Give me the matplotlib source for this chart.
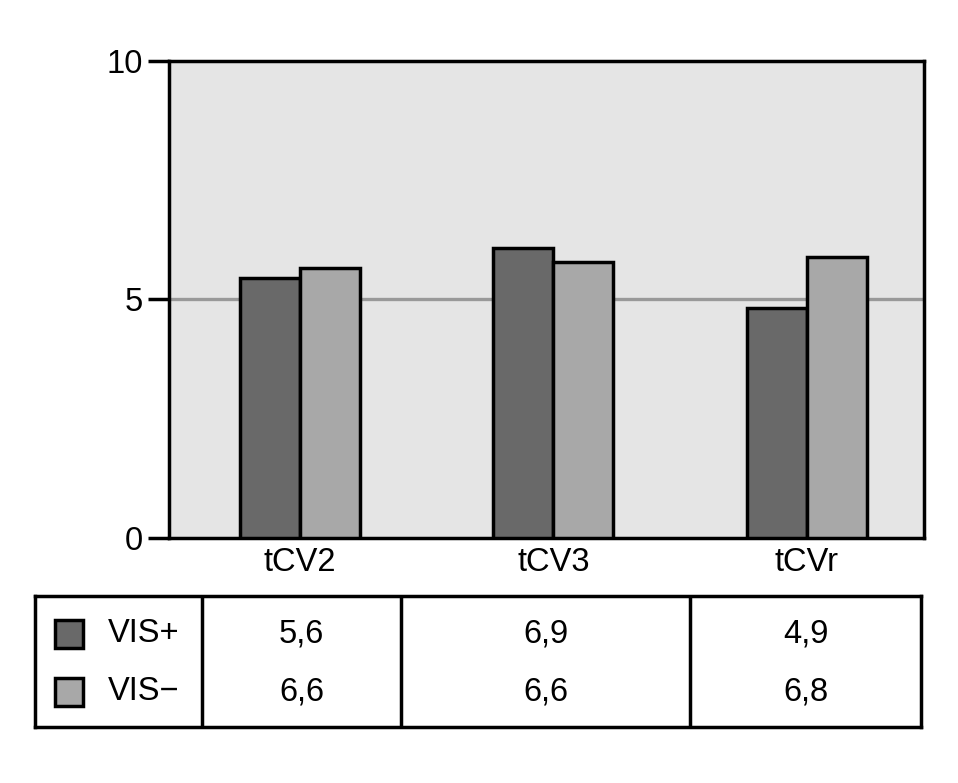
import matplotlib.pyplot as plt
import numpy as np

plt.rcParams['font.family'] = ['Liberation Sans', 'DejaVu Sans']

categories = ['tCV2', 'tCV3', 'tCVr']
series = ['VIS+', 'VIS\u2212']
vis_plus = [5.45, 6.08, 4.82]
vis_minus = [5.66, 5.78, 5.89]
table_plus = ['5,6', '6,9', '4,9']
table_minus = ['6,6', '6,6', '6,8']
yticks = [0, 5, 10]

dark = '#696969'
light = '#a8a8a8'
fs = 23.5
lw = 2.5

fig = plt.figure(figsize=(9.58, 7.83), dpi=100)
W, H = 958, 783

# main bar axes, placed in pixel terms
ax = fig.add_axes([169 / W, 1 - 537.5 / H, (924 - 169) / W, (537.5 - 61) / H])
ax.set_facecolor('#e5e5e5')

x = np.arange(len(categories))
bw = 0.237
ax.axhline(5, color='#999999', lw=2.4, zorder=1)
ax.bar(x - bw / 2, vis_plus, bw, color=dark, edgecolor='black', lw=lw, zorder=3)
ax.bar(x + bw / 2, vis_minus, bw, color=light, edgecolor='black', lw=lw, zorder=3)

ax.set_xlim(-0.516, 2.462)
ax.set_ylim(0, 10)
ax.set_yticks(yticks)
ax.set_xticks(x)
ax.set_xticklabels(categories)
ax.tick_params(axis='x', length=0, pad=7, labelsize=fs)
ax.tick_params(axis='y', length=15, width=lw, pad=4, labelsize=fs)
for s in ax.spines.values():
    s.set_linewidth(lw)

# table below
tx = fig.add_axes([35 / W, 1 - 727 / H, (921 - 35) / W, (727 - 596) / H])
tx.set_xlim(35, 921)
tx.set_ylim(727, 596)
tx.set_xticks([])
tx.set_yticks([])
for s in tx.spines.values():
    s.set_linewidth(lw)
for xd in [202, 401, 690]:
    tx.axvline(xd, color='black', lw=lw)

col_centers = [301.5, 545.5, 805.5]
row_y = [634, 692]
rows = [table_plus, table_minus]
for r, (vals, name, c) in enumerate(zip(rows, series, [dark, light])):
    tx.add_patch(plt.Rectangle((55, row_y[r] - 14), 28, 28, facecolor=c,
                               edgecolor='black', lw=lw))
    tx.text(108, row_y[r], name, fontsize=fs, va='center', ha='left')
    for cx, v in zip(col_centers, vals):
        tx.text(cx, row_y[r], v, fontsize=fs, va='center', ha='center')

fig.savefig('out.png', dpi=100)
